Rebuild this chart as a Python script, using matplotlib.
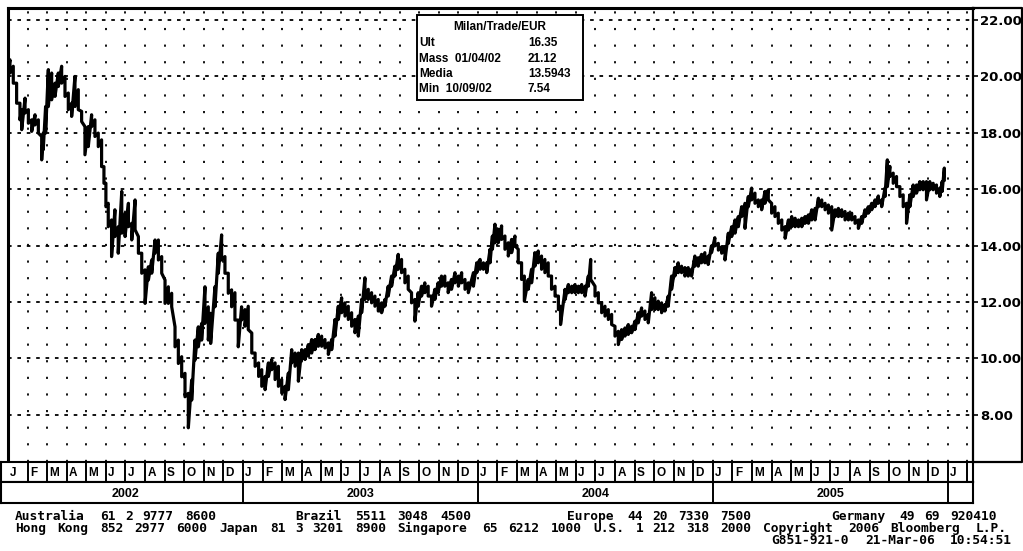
import matplotlib
matplotlib.use("Agg")
import matplotlib.pyplot as plt
from matplotlib.patches import Rectangle
from matplotlib.lines import Line2D
import numpy as np
import re

W, H = 1023, 551

# ---- data: position in months since 1 Jan 2002, with the daily high / low envelope ----
months = [0.02, 0.10, 0.27, 0.44, 0.61, 0.70, 0.87, 1.04, 1.21, 1.38, 1.55, 1.72, 1.80, 1.92,
          2.06, 2.23, 2.40, 2.57, 2.74, 2.91, 3.08, 3.25, 3.42, 3.59, 3.76, 3.93, 4.10, 4.27,
          4.44, 4.61, 4.78, 4.90, 5.00, 5.12, 5.29, 5.46, 5.63, 5.81, 5.98, 6.15, 6.32, 6.49,
          6.66, 6.83, 7.00, 7.17, 7.34, 7.51, 7.68, 7.85, 8.02, 8.19, 8.36, 8.53, 8.70, 8.87,
          9.04, 9.21, 9.38, 9.55, 9.72, 9.89, 10.06, 10.23, 10.35, 10.57, 10.74, 10.91, 11.08,
          11.25, 11.42, 11.59, 11.76, 11.93, 12.10, 12.27, 12.45, 12.62, 12.80, 12.96, 13.13,
          13.30, 13.47, 13.64, 13.81, 13.98, 14.15, 14.32, 14.49, 14.66, 14.83, 15.00, 15.17,
          15.34, 15.51, 15.68, 15.85, 16.02, 16.19, 16.36, 16.53, 16.70, 16.87, 17.04, 17.21,
          17.38, 17.55, 17.72, 17.89, 18.06, 18.23, 18.40, 18.57, 18.74, 18.91, 19.08, 19.25,
          19.42, 19.59, 19.76, 19.93, 20.10, 20.27, 20.44, 20.61, 20.78, 20.95, 21.12, 21.29,
          21.46, 21.63, 21.80, 21.97, 22.14, 22.31, 22.48, 22.65, 22.83, 23.00, 23.17, 23.34,
          23.51, 23.77, 23.94, 24.11, 24.28, 24.45, 24.62, 24.74, 24.87, 25.04, 25.21, 25.38,
          25.55, 25.72, 25.89, 26.06, 26.23, 26.37, 26.57, 26.74, 26.91, 27.08, 27.25, 27.42,
          27.59, 27.76, 27.94, 28.11, 28.22, 28.45, 28.62, 28.79, 28.96, 29.13, 29.30, 29.47,
          29.64, 29.76, 29.98, 30.15, 30.32, 30.49, 30.66, 30.83, 31.00, 31.17, 31.34, 31.51,
          31.68, 31.85, 32.02, 32.19, 32.36, 32.53, 32.70, 32.87, 33.04, 33.21, 33.38, 33.55,
          33.72, 33.89, 34.06, 34.23, 34.40, 34.57, 34.74, 34.91, 35.08, 35.25, 35.42, 35.59,
          35.76, 35.93, 36.10, 36.28, 36.45, 36.62, 36.79, 36.96, 37.13, 37.30, 37.47, 37.64,
          37.81, 37.98, 38.15, 38.32, 38.49, 38.66, 38.83, 39.00, 39.17, 39.34, 39.52, 39.69,
          39.86, 40.03, 40.20, 40.37, 40.54, 40.71, 40.88, 41.05, 41.22, 41.39, 41.56, 41.73,
          41.90, 42.07, 42.24, 42.41, 42.58, 42.75, 42.92, 43.09, 43.26, 43.43, 43.60, 43.77,
          43.94, 44.11, 44.28, 44.45, 44.62, 44.79, 44.91, 45.04, 45.21, 45.38, 45.55, 45.72,
          45.89, 46.06, 46.23, 46.40, 46.57, 46.74, 46.91, 47.08, 47.25, 47.42, 47.59, 47.71,
          47.82]
high = [21.12, 20.59, 20.36, 19.76, 19.05, 18.82, 19.23, 18.82, 18.46, 18.64, 18.46, 17.87, 17.99, 18.93,
        20.24, 20.12, 19.76, 20.12, 20.36, 20.00, 19.41, 19.05, 20.00, 19.53, 18.76, 18.22, 18.22, 18.64,
        18.46, 17.99, 17.75, 16.80, 16.21, 15.50, 14.91, 15.27, 14.67, 15.92, 15.15, 15.50, 14.79, 15.62,
        14.32, 13.73, 13.14, 13.25, 13.49, 14.20, 14.20, 13.61, 12.78, 12.54, 12.31, 11.12, 10.65, 10.06,
        9.47, 8.76, 9.23, 10.65, 11.12, 11.24, 12.54, 11.83, 11.60, 12.54, 13.73, 14.38, 13.61,
        13.02, 12.43, 12.33, 11.36, 11.83, 11.73, 11.85, 10.90, 10.19, 9.84, 9.60, 9.36,
        9.84, 9.96, 9.84, 9.72, 9.25, 9.01, 9.48, 10.31, 10.19, 10.19, 10.31, 10.31,
        10.49, 10.67, 10.67, 10.85, 10.79, 10.67, 10.55, 10.67, 11.38, 11.85, 12.15, 11.97,
        11.85, 11.62, 11.38, 11.50, 12.09, 12.86, 12.45, 12.33, 12.21, 12.09, 11.97, 12.09,
        12.56, 12.92, 13.27, 13.69, 13.51, 13.16, 12.92, 12.33, 12.09, 12.33, 12.56, 12.68,
        12.56, 12.21, 12.45, 12.68, 12.92, 12.92, 12.68, 12.80, 13.04, 12.92, 13.04, 12.80,
        12.68, 13.04, 13.39, 13.51, 13.39, 13.39, 13.87, 14.34, 14.76, 14.58, 14.70, 14.34,
        14.10, 14.22, 14.34, 13.87, 13.39, 12.92, 12.80, 13.16, 13.75, 13.81, 13.63, 13.51,
        13.39, 12.92, 12.56, 12.21, 11.85, 12.45, 12.62, 12.56, 12.62, 12.56, 12.62, 12.56,
        12.92, 13.51, 12.56, 12.33, 11.97, 11.85, 11.73, 11.56, 11.14, 10.96, 11.02, 11.08,
        11.20, 11.14, 11.32, 11.62, 11.79, 11.68, 11.56, 12.33, 12.15, 12.03, 11.97, 11.91,
        12.21, 12.92, 13.22, 13.39, 13.27, 13.22, 13.22, 13.16, 13.63, 13.57, 13.69, 13.75,
        13.63, 13.99, 14.28, 14.08, 13.96, 13.96, 14.44, 14.67, 14.91, 15.03, 15.38, 15.50,
        15.74, 16.04, 15.86, 15.62, 15.62, 15.92, 15.98, 15.50, 15.38, 15.15, 14.91, 14.67,
        14.91, 15.03, 14.97, 14.91, 14.97, 15.03, 15.09, 15.27, 15.32, 15.68, 15.62, 15.50,
        15.44, 15.38, 15.27, 15.32, 15.27, 15.21, 15.15, 15.15, 15.03, 14.91, 15.03, 15.27,
        15.38, 15.50, 15.62, 15.76, 15.62, 16.04, 17.04, 16.81, 16.57, 16.45, 16.09, 15.80,
        15.50, 15.80, 16.15, 16.15, 16.27, 16.27, 16.27, 16.27, 16.21, 16.15, 16.04, 16.27,
        16.75]
low = [20.24, 20.12, 19.76, 19.05, 18.46, 18.11, 18.70, 18.34, 18.05, 18.28, 17.99, 17.04, 17.40, 17.99,
       18.93, 19.17, 19.29, 19.64, 19.76, 19.29, 18.82, 18.58, 18.93, 18.82, 18.40, 17.22, 17.51, 18.22,
       17.87, 17.51, 16.80, 16.21, 15.38, 14.67, 13.61, 14.32, 13.73, 14.44, 14.32, 14.67, 14.20, 14.56,
       13.73, 13.02, 11.95, 12.78, 13.02, 13.73, 13.49, 13.02, 11.95, 11.95, 11.83, 10.41, 9.82, 9.35,
       8.64, 7.54, 8.52, 9.94, 10.41, 10.65, 11.24, 10.65, 10.53, 11.83, 13.02, 13.49, 13.02,
       12.31, 11.83, 11.36, 10.41, 11.36, 11.14, 11.02, 10.19, 9.72, 9.36, 9.01, 8.89,
       9.36, 9.60, 9.25, 9.01, 8.77, 8.54, 8.89, 9.84, 9.72, 9.19, 9.96, 9.96,
       10.08, 10.19, 10.31, 10.43, 10.43, 10.37, 10.14, 10.31, 10.79, 11.38, 11.62, 11.50,
       11.38, 11.14, 10.91, 10.79, 11.62, 12.09, 12.09, 11.97, 11.85, 11.68, 11.62, 11.85,
       12.21, 12.56, 12.92, 13.16, 13.04, 12.68, 12.45, 11.97, 11.32, 11.85, 12.21, 12.33,
       12.21, 11.85, 12.09, 12.33, 12.56, 12.56, 12.33, 12.45, 12.68, 12.56, 12.68, 12.45,
       12.33, 12.56, 13.04, 13.16, 13.16, 13.04, 13.39, 13.87, 14.10, 14.10, 14.22, 13.87,
       13.63, 13.75, 13.99, 13.39, 12.80, 12.03, 12.45, 12.68, 13.27, 13.39, 13.16, 13.04,
       12.92, 12.45, 12.21, 11.73, 11.20, 12.09, 12.33, 12.33, 12.33, 12.33, 12.33, 12.21,
       12.56, 12.80, 12.21, 11.97, 11.62, 11.50, 11.38, 11.20, 10.79, 10.49, 10.67, 10.79,
       10.85, 10.91, 11.02, 11.26, 11.50, 11.38, 11.26, 11.73, 11.73, 11.73, 11.62, 11.68,
       11.85, 12.45, 12.92, 13.04, 13.04, 12.92, 12.92, 12.92, 13.27, 13.27, 13.39, 13.39,
       13.33, 13.75, 13.99, 13.84, 13.73, 13.49, 14.08, 14.32, 14.44, 14.67, 15.03, 14.61,
       15.38, 15.62, 15.50, 15.38, 15.27, 15.50, 15.62, 15.15, 15.03, 14.79, 14.55, 14.26,
       14.55, 14.67, 14.67, 14.67, 14.67, 14.79, 14.79, 14.91, 14.91, 15.38, 15.38, 15.27,
       15.15, 14.55, 15.03, 15.03, 15.03, 14.91, 14.91, 14.91, 14.79, 14.61, 14.79, 15.03,
       15.15, 15.27, 15.38, 15.50, 15.38, 15.74, 16.09, 16.45, 16.21, 16.09, 15.74, 15.38,
       14.79, 15.38, 15.74, 15.86, 15.98, 15.98, 15.62, 15.98, 15.98, 15.86, 15.74, 15.92,
       16.33]

y_ticks = [8, 10, 12, 14, 16, 18, 20, 22]
month_letters = ['J', 'F', 'M', 'A', 'M', 'J', 'J', 'A', 'S', 'O', 'N', 'D']
years = ['2002', '2003', '2004', '2005']

legend_title = 'Milan/Trade/EUR'
legend_labels = ['Ult', 'Mass  01/04/02', 'Media', 'Min  10/09/02']
legend_values = ['16.35', '21.12', '13.5943', '7.54']

# footer lines as fixed-column terminal text
footer_lines = [
    'Australia 61 2 9777 8600' + ' ' * 9 + 'Brazil 5511 3048 4500' + ' ' * 11
    + 'Europe 44 20 7330 7500' + ' ' * 9 + 'Germany 49 69 920410',
    'Hong Kong 852 2977 6000 Japan 81 3 3201 8900 Singapore 65 6212 1000 '
    'U.S. 1 212 318 2000 Copyright 2006 Bloomberg L.P.',
    ' ' * 89 + 'G851-921-0 21-Mar-06 10:54:51',
]

# ---- layout (pixels) ----
PX_PER_MONTH = 19.58
X_LEFT, X_RIGHT = 8, 973
Y_TOP, Y_PLOT_BOT = 8, 462
Y_MONTH_BOT, Y_YEAR_BOT = 482, 503
BAND_LEFT = 1
x_max = (X_RIGHT - X_LEFT) / PX_PER_MONTH
y_min = 22 - (Y_PLOT_BOT - 20) / 28.2
y_max = 22 + (20 - Y_TOP) / 28.2
band_xmin = -(X_LEFT - BAND_LEFT) / PX_PER_MONTH
FOOT_X0, FOOT_COL = 15, 8.5
FOOT_Y = [516.5, 528.5, 540.5]


def rect(x0, y0, x1, y1):
    return [x0 / W, 1 - y1 / H, (x1 - x0) / W, (y1 - y0) / H]


fig = plt.figure(figsize=(W / 100, H / 100), dpi=100)
fig.patch.set_facecolor('white')

ax = fig.add_axes(rect(X_LEFT, Y_TOP, X_RIGHT, Y_PLOT_BOT))
ax.set_xlim(0, x_max)
ax.set_ylim(y_min, y_max)

xs = np.repeat(np.asarray(months), 2)
ys = np.column_stack([high, low]).ravel()
ax.plot(xs, ys, color='black', lw=2.3, zorder=3, solid_joinstyle='round')

ax.set_xticks(range(1, int(x_max) + 1))
ax.tick_params(axis='x', which='both', length=0, labelbottom=False)
ax.grid(axis='x', color='black', lw=1.3, linestyle=(0, (1.2, 8.0)))
ax.set_yticks(y_ticks)
ax.yaxis.tick_right()
ax.set_yticklabels([f'{v:.2f}' for v in y_ticks], fontsize=9.5, fontweight='bold',
                   family='DejaVu Sans')
ax.tick_params(axis='y', direction='out', length=3.5, width=1.2, pad=1.5, colors='black')
ax.grid(axis='y', color='black', lw=1.3, linestyle=(0, (2.0, 3.2)))
ax.spines['left'].set_linewidth(2.2)
ax.spines['top'].set_linewidth(2.2)
ax.spines['right'].set_linewidth(1.6)
ax.spines['bottom'].set_linewidth(1.2)

# month band
axm = fig.add_axes(rect(BAND_LEFT, Y_PLOT_BOT, X_RIGHT, Y_MONTH_BOT))
axm.set_xlim(band_xmin, x_max)
axm.set_ylim(0, 1)
axm.set_xticks([]); axm.set_yticks([])
for s in axm.spines.values():
    s.set_linewidth(1.5)
n_months = int(x_max) + 1
for k in range(n_months):
    if k > 0:
        axm.axvline(k, color='black', lw=1.4)
    if k + 1 <= x_max:
        axm.text(k + 0.12, 0.47, month_letters[k % 12], ha='left', va='center',
                 fontsize=8.5, fontweight='bold', family='Liberation Sans')

# year band
axy = fig.add_axes(rect(BAND_LEFT, Y_MONTH_BOT, X_RIGHT, Y_YEAR_BOT))
axy.set_xlim(band_xmin, x_max)
axy.set_ylim(0, 1)
axy.set_xticks([]); axy.set_yticks([])
for s in axy.spines.values():
    s.set_linewidth(1.5)
for i, yr in enumerate(years):
    axy.axvline(12 * (i + 1), color='black', lw=1.4)
    axy.text(12 * i + 6, 0.45, yr, ha='center', va='center', fontsize=9,
             fontweight='bold', family='Liberation Sans')

# overlay in pixel coordinates
ov = fig.add_axes([0, 0, 1, 1], zorder=10)
ov.set_xlim(0, W)
ov.set_ylim(H, 0)
ov.axis('off')
ov.patch.set_alpha(0)

# right label panel frame
ov.add_line(Line2D([X_RIGHT, 1021.5, 1021.5, X_RIGHT], [Y_TOP, Y_TOP, Y_PLOT_BOT, Y_PLOT_BOT],
                   color='black', lw=1.6))

# legend box
ov.add_patch(Rectangle((417, 15), 166, 85, facecolor='white', edgecolor='black', lw=1.4))
ov.text(500, 27, legend_title, ha='center', va='center', fontsize=8.5, fontweight='bold',
        family='Liberation Sans')
row_y = [43, 58.5, 74, 89]
for lab, val, yy in zip(legend_labels, legend_values, row_y):
    ov.text(419, yy, lab, ha='left', va='center', fontsize=8.5, fontweight='bold',
            family='Liberation Sans')
    ov.text(528, yy, val, ha='left', va='center', fontsize=8.5, fontweight='bold',
            family='Liberation Sans')

# footer: each word placed on its terminal column
mono = dict(family='DejaVu Sans Mono', fontsize=9.3, fontweight='bold', va='center', ha='left')
for line, yy in zip(footer_lines, FOOT_Y):
    for m in re.finditer(r'\S+', line):
        ov.text(FOOT_X0 + m.start() * FOOT_COL, yy, m.group(), **mono)

fig.savefig('out.png', dpi=100, facecolor='white')
